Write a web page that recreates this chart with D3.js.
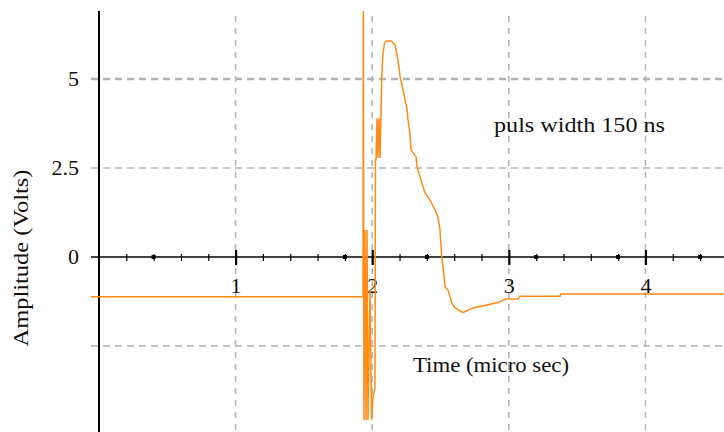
<!DOCTYPE html>
<html>
<head>
<meta charset="utf-8">
<script src="https://cdn.jsdelivr.net/npm/d3@7"></script>
<style>
  body { margin: 0; background: #fff; }
  text { font-family: "Liberation Serif", "Times New Roman", serif; fill: #111; }
</style>
</head>
<body>
<svg id="chart" width="724" height="432" font-family="Liberation Serif, serif"></svg>
<script>
// scope trace (time in micro sec, amplitude in volts)
let timeUs = [-0.059, 1.933, 1.935, 1.940, 1.947, 1.955, 1.962, 1.969, 1.984, 1.995,
              2.006, 2.020, 2.024, 2.028, 2.035, 2.042, 2.050, 2.057, 2.064, 2.070,
              2.079, 2.090, 2.105, 2.141, 2.152, 2.167, 2.179, 2.196, 2.204, 2.226,
              2.240, 2.253, 2.262, 2.277, 2.284, 2.321, 2.328, 2.350, 2.372, 2.387,
              2.423, 2.460, 2.482, 2.496, 2.509, 2.521, 2.533, 2.555, 2.570, 2.582,
              2.606, 2.665, 2.738, 2.838, 2.921, 2.980, 3.067, 3.082, 3.375, 3.380,
              4.580];
let amplitudeV = [-1.12, -1.12, 6.91, -4.58, 0.76, -4.58, 0.76, -4.58, -0.93, -4.58,
                  -3.93, -3.68, 2.73, 2.73, 3.90, 2.78, 3.90, 2.78, 3.90, 5.11,
                  5.73, 6.01, 6.07, 6.07, 6.01, 5.96, 5.73, 5.34, 5.06, 4.69,
                  4.41, 4.21, 3.85, 3.43, 3.01, 2.81, 2.53, 2.25, 1.97, 1.80,
                  1.60, 1.32, 1.12, 0.76, 0.00, -0.37, -0.84, -0.93, -1.12, -1.29,
                  -1.43, -1.56, -1.43, -1.35, -1.28, -1.18, -1.18, -1.10, -1.10, -1.04,
                  -1.04];

let xMajorTicks = [1, 2, 3, 4];
let xTickLabels = ["1", "2", "3", "4"];
let yGridValues = [5, 2.5, -2.5];
let yTickValues = [5, 2.5, 0];
let yTickLabels = ["5", "2.5", "0"];
let dotTicks = [0.4, 1.8, 2.4, 3.2, 3.8, 4.4];

let xTitle = "Time (micro sec)",
    yTitle = "Amplitude (Volts)",
    note = "puls width 150 ns";

let svg = d3.select("#chart");

let x = d3.scaleLinear().domain([0, 4.6]).range([99, 727.4]);
let y = d3.scaleLinear().domain([-5, 7]).range([435, 7.8]);

let gridColor = "#b2b2b2",
    traceColor = "#ff8a14";

// vertical grid
svg.append("g").selectAll("line")
  .data(xMajorTicks)
  .enter().append("line")
    .attr("x1", d => x(d)).attr("x2", d => x(d))
    .attr("y1", 16).attr("y2", 432)
    .attr("stroke", gridColor)
    .attr("stroke-width", 1.5)
    .attr("stroke-dasharray", "6,6");

// horizontal grid
svg.append("g").selectAll("line")
  .data(yGridValues)
  .enter().append("line")
    .attr("x1", 91).attr("x2", 724)
    .attr("y1", d => y(d)).attr("y2", d => y(d))
    .attr("stroke", gridColor)
    .attr("stroke-width", d => d === 5 ? 2.6 : 1.5)
    .attr("stroke-dasharray", "7,5");

// axes lines
svg.append("line")
  .attr("x1", x(0)).attr("x2", x(0))
  .attr("y1", 11).attr("y2", 432)
  .attr("stroke", "#000").attr("stroke-width", 2);

svg.append("line")
  .attr("x1", 91).attr("x2", 724)
  .attr("y1", y(0)).attr("y2", y(0))
  .attr("stroke", "#000").attr("stroke-width", 1.6);

// minor ticks on the zero line
let minorTicks = x.ticks(23).filter(d => d > 0 && d < 4.6 && d % 1 !== 0);
let minorAxis = svg.append("g")
  .attr("transform", `translate(0,${y(0)})`)
  .call(d3.axisBottom(x).tickValues(minorTicks).tickFormat("").tickSizeOuter(0));
minorAxis.select(".domain").remove();
minorAxis.selectAll(".tick line")
  .attr("y1", -3).attr("y2", 4)
  .attr("stroke", "#000").attr("stroke-width", 1.2);

svg.append("g").selectAll("rect")
  .data(dotTicks)
  .enter().append("rect")
    .attr("x", d => x(d) - 2).attr("y", y(0) - 2)
    .attr("width", 4).attr("height", 4)
    .attr("fill", "#000");

// major ticks + labels
let majorAxis = svg.append("g")
  .attr("transform", `translate(0,${y(0)})`)
  .call(d3.axisBottom(x).tickValues(xMajorTicks)
          .tickFormat((d, i) => xTickLabels[i]).tickSizeOuter(0));
majorAxis.attr("font-family", "Liberation Serif, serif");
majorAxis.select(".domain").remove();
majorAxis.selectAll(".tick line")
  .attr("y1", -7).attr("y2", 8)
  .attr("stroke", "#000").attr("stroke-width", 2.2);
majorAxis.selectAll(".tick text")
  .attr("y", 36).attr("dy", null)
  .attr("font-size", 22)
  .attr("fill", "#111");

// y labels
svg.append("g").selectAll("text")
  .data(yTickValues)
  .enter().append("text")
    .attr("x", 79)
    .attr("y", d => y(d) + 7)
    .attr("text-anchor", "end")
    .attr("font-size", 22)
    .text((d, i) => yTickLabels[i]);

// titles
svg.append("text")
  .attr("transform", "translate(28,258) rotate(-90)")
  .attr("text-anchor", "middle")
  .attr("font-size", 22)
  .attr("textLength", 177)
  .attr("lengthAdjust", "spacingAndGlyphs")
  .text(yTitle);

svg.append("text")
  .attr("x", 413).attr("y", 372)
  .attr("font-size", 22)
  .attr("textLength", 156)
  .attr("lengthAdjust", "spacingAndGlyphs")
  .text(xTitle);

svg.append("text")
  .attr("x", 494).attr("y", 132)
  .attr("font-size", 22)
  .attr("textLength", 171)
  .attr("lengthAdjust", "spacingAndGlyphs")
  .text(note);

// trace
let line = d3.line()
  .x(d => x(d[0]))
  .y(d => y(d[1]));

svg.append("path")
  .datum(d3.zip(timeUs, amplitudeV))
  .attr("d", line)
  .attr("fill", "none")
  .attr("stroke", traceColor)
  .attr("stroke-width", 1.5)
  .attr("stroke-linejoin", "miter");
</script>
</body>
</html>
